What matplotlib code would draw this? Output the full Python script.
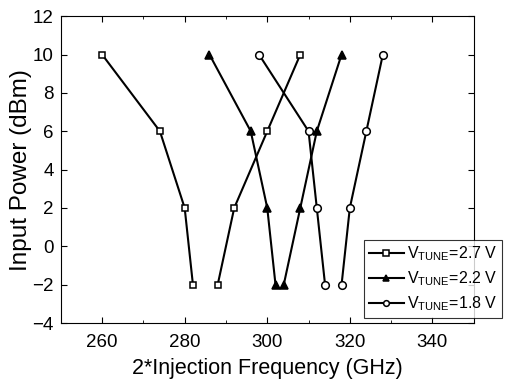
import matplotlib
matplotlib.use("Agg")
import matplotlib.pyplot as plt
from matplotlib.ticker import MultipleLocator

plt.rcParams['font.family'] = ['Liberation Sans', 'DejaVu Sans']
plt.rcParams['mathtext.fontset'] = 'custom'
plt.rcParams['mathtext.rm'] = 'Liberation Sans'

# each tuning voltage has two branches (low side / high side of the lock range)
power = [10, 6, 2, -2]

f27_low = [260, 274, 280, 282]
f27_high = [308, 300, 292, 288]
f22_low = [286, 296, 300, 302]
f22_high = [318, 312, 308, 304]
f18_low = [298, 310, 312, 314]
f18_high = [328, 324, 320, 318]

labels = [r'$\mathregular{V_{TUNE}}$=2.7 V',
          r'$\mathregular{V_{TUNE}}$=2.2 V',
          r'$\mathregular{V_{TUNE}}$=1.8 V']

fig = plt.figure(figsize=(5.11, 3.85), dpi=100)
ax = fig.add_axes([0.119, 0.161, 0.808, 0.797])

series = [(f27_low, f27_high, 's', 'white', 5.0),
          (f22_low, f22_high, '^', 'black', 6.0),
          (f18_low, f18_high, 'o', 'white', 5.5)]

for (lo, hi, m, fc, ms), lab in zip(series, labels):
    kw = dict(color='black', lw=1.5, marker=m, ms=ms, mfc=fc, mec='black', mew=1.1)
    ax.plot(lo, power, label=lab, **kw)
    ax.plot(hi, power, **kw)

ax.set_xlim(250, 350)
ax.set_ylim(-4, 12)
ax.xaxis.set_major_locator(MultipleLocator(20))
ax.xaxis.set_minor_locator(MultipleLocator(10))
ax.yaxis.set_major_locator(MultipleLocator(2))
ax.tick_params(which='both', direction='in', top=True, right=True, labelsize=13.5)
ax.tick_params(which='major', length=4)
ax.tick_params(which='minor', length=2.5)
ax.tick_params(axis='x', pad=8)
ax.tick_params(axis='y', pad=5)
for s in ax.spines.values():
    s.set_linewidth(0.8)

ax.set_xlabel('2*Injection Frequency (GHz)', fontsize=15.5, labelpad=5)
ax.set_ylabel('Input Power (dBm)', fontsize=17.5, labelpad=0)

# legend box sticks out past the right spine in the original
leg = ax.legend(loc='lower left', bbox_to_anchor=(0.712, 0.174),
                bbox_transform=fig.transFigure, fontsize=11.5, frameon=True,
                fancybox=False, edgecolor='black', borderaxespad=0,
                handlelength=2.2, handletextpad=0.2, labelspacing=0.4,
                borderpad=0.3, markerscale=0.75)
leg.get_frame().set_linewidth(0.8)

fig.savefig('out.png', dpi=100)
